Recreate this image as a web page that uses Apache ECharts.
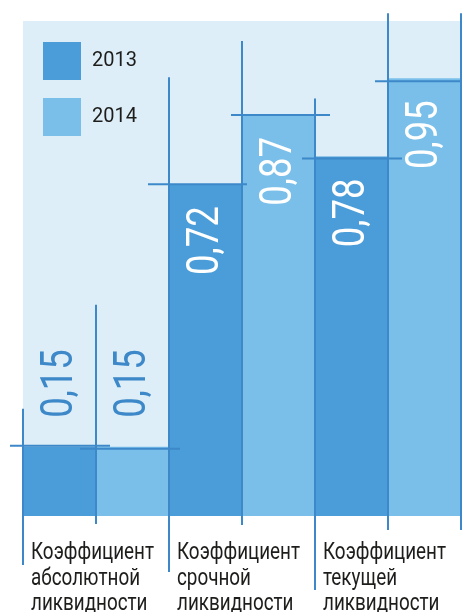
<!DOCTYPE html>
<html>
<head>
<meta charset="utf-8">
<script src="https://cdn.jsdelivr.net/npm/echarts@6/dist/echarts.min.js"></script>
<style>
html,body{margin:0;padding:0;background:#fff;}
#c{width:462px;height:612px;}
</style>
</head>
<body>
<div id="c"></div>
<script>
// ---- data ----
const categories = ['Коэффициент\nабсолютной\nликвидности', 'Коэффициент\nсрочной\nликвидности', 'Коэффициент\nтекущей\nликвидности'];
const seriesNames = ['2013', '2014'];
const values2013 = [0.15, 0.72, 0.78];
const values2014 = [0.15, 0.87, 0.95];

// ---- styles ----
const C_DARK = '#4A9DD8';
const C_LIGHT = '#79BFE9';
const C_BG = '#DDEEF9';
const C_LINE = '#3D88C8';
const C_TEXT = '#1d1d1b';
// decorative crosshair offsets per bar (px): order = cat0/2013, cat0/2014, cat1/2013, ...
const DECOR = [
  {up: 38, down: 49, hl: 13, hr: 14, hy: -1},
  {up: 142, down: 8, hl: 16, hr: 11, hy: 2},
  {up: 107, down: 56, hl: 21, hr: 5, hy: 0},
  {up: 74, down: 9, hl: 11, hr: 15, hy: 0},
  {up: 58, down: 74, hl: 13, hr: 14, hy: 2},
  {up: 65, down: 14, hl: 13, hr: 4, hy: 3, right: true}
];
const INSIDE_MIN = 0.4;

const allValues = [values2013, values2014];
const decoData = [];
categories.forEach((c, i) => {
  allValues.forEach((arr, s) => {
    decoData.push([i, arr[i], s, i * 2 + s]);
  });
});

const fmt = v => v.toFixed(2).replace('.', ',');

const chart = echarts.init(document.getElementById('c'), null, {renderer: 'canvas'});
chart.setOption({
  animation: false,
  grid: {left: 23, right: 1, top: 21, bottom: 96, show: true, backgroundColor: C_BG, borderWidth: 0, containLabel: false},
  legend: {
    data: seriesNames,
    orient: 'vertical',
    left: 43, top: 42,
    itemWidth: 38, itemHeight: 38, itemGap: 18,
    icon: 'rect',
    padding: 0,
    textStyle: {fontFamily: 'Roboto', fontSize: 20, color: C_TEXT, padding: [0, 0, 0, 6]}
  },
  xAxis: {
    type: 'category', data: categories,
    axisLine: {show: false}, axisTick: {show: false}, axisLabel: {show: false}, splitLine: {show: false}
  },
  yAxis: {
    type: 'value', min: 0, max: 1.074,
    axisLine: {show: false}, axisTick: {show: false}, axisLabel: {show: false}, splitLine: {show: false}
  },
  series: [
    {name: seriesNames[0], type: 'bar', data: values2013, barGap: '0%', barCategoryGap: '0%', itemStyle: {color: C_DARK}},
    {name: seriesNames[1], type: 'bar', data: values2014, barGap: '0%', barCategoryGap: '0%', itemStyle: {color: C_LIGHT}},
    {
      type: 'custom', z: 5, clip: false, silent: true,
      encode: {x: 0, y: 1},
      data: decoData,
      renderItem: function (params, api) {
        const ci = api.value(0), v = api.value(1), s = api.value(2), k = api.value(3);
        const d = DECOR[k];
        const c = api.coord([ci, v]);
        const base = api.coord([ci, 0]);
        const band = api.size([1, 0])[0];
        const left = c[0] - band / 2 + s * band / 2;
        const right = left + band / 2;
        const top = c[1];
        const ls = {stroke: C_LINE, lineWidth: 2};
        const children = [
          {type: 'line', shape: {x1: left, y1: top - d.up, x2: left, y2: base[1] + d.down}, style: ls},
          {type: 'line', shape: {x1: left - d.hl, y1: top + d.hy, x2: right + d.hr, y2: top + d.hy}, style: ls}
        ];
        if (d.right) {
          children.push({type: 'line', shape: {x1: right, y1: top - d.up, x2: right, y2: base[1] + d.down}, style: ls});
        }
        const inside = v >= INSIDE_MIN;
        children.push({
          type: 'text',
          x: left + band / 4 + 1,
          y: inside ? top + 22 : top - 29,
          rotation: Math.PI / 2,
          scaleX: 0.83,
          style: {
            text: fmt(v), fontFamily: 'Roboto', fontSize: 44,
            fill: inside ? '#ffffff' : C_LINE,
            align: inside ? 'right' : 'left', verticalAlign: 'middle'
          }
        });
        if (s === 0) {
          children.push({
            type: 'text',
            x: left + 8,
            y: base[1] + 25,
            scaleX: 0.82,
            style: {
              text: categories[ci], fontFamily: 'Roboto', fontSize: 23, lineHeight: 25.2,
              fill: C_TEXT, align: 'left', verticalAlign: 'top'
            }
          });
        }
        return {type: 'group', children: children};
      }
    }
  ]
});
</script>
</body>
</html>
